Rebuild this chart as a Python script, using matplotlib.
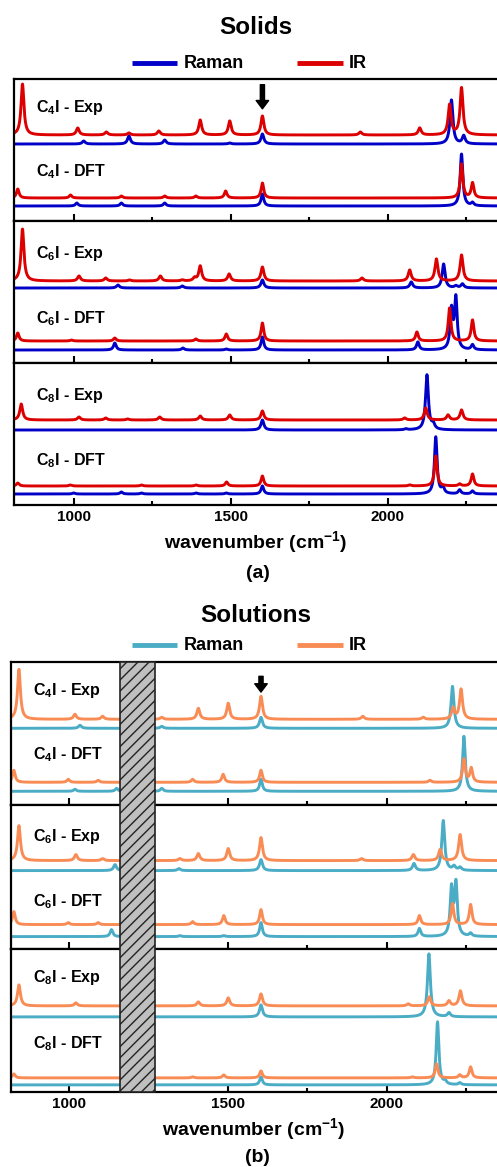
import numpy as np
import matplotlib
matplotlib.use('Agg')
import matplotlib.pyplot as plt
from matplotlib.lines import Line2D
from matplotlib.patches import Rectangle
from matplotlib.transforms import blended_transform_factory

plt.rcParams['font.family'] = ['Liberation Sans', 'DejaVu Sans']
plt.rcParams['font.weight'] = 'bold'
plt.rcParams['mathtext.fontset'] = 'custom'
plt.rcParams['mathtext.rm'] = 'Liberation Sans:bold'
plt.rcParams['mathtext.bf'] = 'Liberation Sans:bold'
plt.rcParams['hatch.linewidth'] = 1.0

# peak lists (wavenumber, intensity a.u.)
# (a) solids
a_c4_exp_ir = [(837, 51), (1013, 7), (1104, 3), (1176, 2), (1271, 4), (1403, 15), (1497, 14),
               (1601, 19), (1913, 3), (2102, 7), (2197, 30), (2235, 47)]
a_c4_exp_raman = [(1032, 3), (1176, 8), (1290, 4), (1497, 1), (1601, 10), (2203, 44), (2242, 8)]
a_c4_dft_ir = [(822, 9), (990, 3), (1152, 2), (1290, 2), (1389, 2), (1484, 7), (1601, 15),
               (2235, 34), (2270, 15)]
a_c4_dft_raman = [(1010, 3), (1152, 3), (1290, 3), (1601, 12), (2235, 52), (2270, 3)]

a_c6_exp_ir = [(837, 52), (1017, 5), (1102, 3), (1178, 1), (1276, 5), (1346, 1), (1385, 3),
               (1403, 15), (1495, 7), (1601, 14), (1918, 3), (2070, 11), (2155, 22), (2235, 26)]
a_c6_exp_raman = [(1141, 3), (1346, 2), (1601, 8), (2075, 6), (2178, 24), (2217, 2), (2238, 4)]
a_c6_dft_ir = [(822, 8), (993, 1), (1131, 3), (1389, 2), (1486, 7), (1601, 18), (2093, 9),
               (2197, 33), (2270, 21)]
a_c6_dft_raman = [(1131, 7), (1348, 2), (1486, 1), (1601, 13), (2096, 8), (2203, 39), (2217, 51),
                  (2270, 5)]

a_c8_exp_ir = [(833, 16), (1017, 3), (1102, 2), (1172, 1), (1274, 3), (1403, 4), (1497, 5),
               (1601, 9), (2054, 2), (2121, 12), (2192, 5), (2235, 10)]
a_c8_exp_raman = [(1601, 10), (2058, 1), (2125, 55), (2145, 5)]
a_c8_dft_ir = [(822, 3), (989, 1), (1216, 1), (1390, 1), (1487, 4), (1601, 10), (2070, 1),
               (2153, 30), (2229, 2), (2270, 12)]
a_c8_dft_raman = [(1000, 1), (1152, 2), (1216, 1), (1390, 1), (1486, 1), (1601, 8), (2153, 57),
                  (2176, 6), (2229, 4), (2270, 3)]

# (b) solutions
b_c4_exp_ir = [(843, 50), (1019, 5), (1106, 3), (1292, 2), (1407, 11), (1501, 16), (1604, 23),
               (1924, 3), (2114, 2), (2208, 11), (2233, 30)]
b_c4_exp_raman = [(1035, 3), (1292, 2), (1604, 11), (2206, 42)]
b_c4_dft_ir = [(827, 12), (998, 3), (1092, 2), (1389, 3), (1485, 8), (1604, 12), (2135, 2),
               (2242, 23), (2265, 14)]
b_c4_dft_raman = [(1019, 2), (1150, 3), (1292, 3), (1604, 12), (2242, 55)]

b_c6_exp_ir = [(843, 35), (1022, 6), (1106, 2), (1349, 2), (1407, 7), (1501, 12), (1604, 23),
               (1920, 2), (2083, 6), (2167, 11), (2230, 26)]
b_c6_exp_raman = [(1145, 6), (1346, 2), (1604, 11), (2085, 7), (2177, 50), (2211, 4), (2230, 3)]
b_c6_dft_ir = [(827, 13), (998, 2), (1092, 2), (1389, 3), (1487, 9), (1604, 15), (2102, 9),
               (2206, 21), (2263, 20)]
b_c6_dft_raman = [(1134, 7), (1349, 1), (1487, 1), (1604, 14), (2102, 8), (2203, 47), (2217, 52),
                  (2263, 3)]

b_c8_exp_ir = [(843, 21), (1022, 3), (1407, 4), (1501, 8), (1604, 12), (2067, 2), (2133, 9),
               (2195, 5), (2231, 15)]
b_c8_exp_raman = [(1604, 12), (2132, 63), (2195, 4)]
b_c8_dft_ir = [(827, 4), (1389, 1), (1487, 3), (1604, 7), (2080, 1), (2156, 14), (2229, 3),
               (2263, 11)]
b_c8_dft_raman = [(1604, 8), (2159, 63), (2183, 3), (2229, 2)]

compounds = ['C$_\\mathbf{4}$I', 'C$_\\mathbf{6}$I', 'C$_\\mathbf{8}$I']
masked_region = (1160, 1270)

W, H = 497, 1167
fig = plt.figure(figsize=(W / 100, H / 100), dpi=100)


def spectrum(x, peaks, hw):
    y = np.zeros_like(x)
    for p, a in peaks:
        y += a / (1 + ((x - p) / hw) ** 2)
    return y


def draw_panel(spectra, left_px, top_px, box_px, xlim, offsets, lab_y, c_raman, c_ir):
    axes = []
    x = np.linspace(xlim[0], xlim[1], 3000)
    for i in range(3):
        top = top_px + i * box_px
        ax = fig.add_axes([left_px / W, 1 - (top + box_px) / H, 1 - left_px / W, box_px / H])
        ex_ir, ex_ra, d_ir, d_ra = spectra[i]
        off = offsets[i]
        ax.plot(x, off[0] + spectrum(x, d_ra, 5), color=c_raman, lw=2.1)
        ax.plot(x, off[1] + spectrum(x, d_ir, 5), color=c_ir, lw=2.1)
        ax.plot(x, off[2] + spectrum(x, ex_ra, 5.5), color=c_raman, lw=2.1)
        ax.plot(x, off[3] + spectrum(x, ex_ir, 5.5), color=c_ir, lw=2.1)
        ax.set_xlim(xlim)
        ax.set_ylim(0, box_px)
        ax.set_yticks([])
        ax.set_xticks([1000, 1500, 2000])
        ax.set_xticks([1250, 1750, 2250], minor=True)
        ax.tick_params(which='major', direction='in', length=5, width=1.5, labelsize=11)
        ax.tick_params(which='minor', direction='in', length=3, width=1.5)
        if i < 2:
            ax.tick_params(labelbottom=False)
        ax.spines['right'].set_visible(False)
        for s in ['left', 'top', 'bottom']:
            ax.spines[s].set_linewidth(1.6)
        ax.text(0.045, lab_y[i][0], compounds[i] + ' - Exp', transform=ax.transAxes,
                fontsize=11.5, fontweight='bold', va='center')
        ax.text(0.045, lab_y[i][1], compounds[i] + ' - DFT', transform=ax.transAxes,
                fontsize=11.5, fontweight='bold', va='center')
        axes.append(ax)
    axes[-1].set_xlabel('wavenumber (cm$^{\\mathbf{-1}}$)', fontsize=14, fontweight='bold',
                        labelpad=4)
    return axes


def legend(y_px, c_raman, c_ir):
    fig.add_artist(Line2D([132 / W, 177 / W], [1 - y_px / H] * 2, color=c_raman, lw=3.5,
                          solid_capstyle='butt'))
    fig.text(184 / W, 1 - y_px / H, 'Raman', fontsize=13, fontweight='bold', va='center')
    fig.add_artist(Line2D([297 / W, 343 / W], [1 - y_px / H] * 2, color=c_ir, lw=3.5,
                          solid_capstyle='butt'))
    fig.text(349 / W, 1 - y_px / H, 'IR', fontsize=13, fontweight='bold', va='center')


def arrow(ax, xpos, y0, y1):
    ax.annotate('', xy=(xpos, y1), xytext=(xpos, y0), xycoords=('data', 'axes fraction'),
                arrowprops=dict(arrowstyle='simple,head_length=0.6,head_width=0.9,tail_width=0.3',
                                mutation_scale=10, color='k', shrinkA=0, shrinkB=0))


# ---- (a) Solids
blue, red = '#0000C8', '#DC0000'
sp_a = [(a_c4_exp_ir, a_c4_exp_raman, a_c4_dft_ir, a_c4_dft_raman),
        (a_c6_exp_ir, a_c6_exp_raman, a_c6_dft_ir, a_c6_dft_raman),
        (a_c8_exp_ir, a_c8_exp_raman, a_c8_dft_ir, a_c8_dft_raman)]
off_a = [(15, 23, 77, 86), (13, 22, 75, 82), (11, 19, 75, 85)]
lab_a = [(0.80, 0.345), (0.77, 0.31), (0.77, 0.31)]
axa = draw_panel(sp_a, 14, 79, 142, (810, 2348), off_a, lab_a, blue, red)
fig.text(0.515, 1 - 28 / H, 'Solids', fontsize=17.5, fontweight='bold',
         ha='center', va='center')
legend(63, blue, red)
arrow(axa[0], 1601, 0.96, 0.79)
fig.text(0.518, 1 - 573 / H, '(a)', fontsize=14, fontweight='bold',
         ha='center', va='center')

# ---- (b) Solutions
cyan, orange = '#4BACC6', '#F98C55'
sp_b = [(b_c4_exp_ir, b_c4_exp_raman, b_c4_dft_ir, b_c4_dft_raman),
        (b_c6_exp_ir, b_c6_exp_raman, b_c6_dft_ir, b_c6_dft_raman),
        (b_c8_exp_ir, b_c8_exp_raman, b_c8_dft_ir, b_c8_dft_raman)]
off_b = [(14, 23, 77, 86), (12, 24, 78, 88), (7, 14, 75, 86)]
lab_b = [(0.80, 0.35), (0.78, 0.33), (0.80, 0.34)]
axb = draw_panel(sp_b, 11, 662, 143.3, (818, 2346), off_b, lab_b, cyan, orange)
fig.text(0.515, 1 - 615 / H, 'Solutions', fontsize=17.5, fontweight='bold',
         ha='center', va='center')
legend(645, cyan, orange)
arrow(axb[0], 1604, 0.90, 0.79)
fig.text(0.518, 1 - 1157 / H, '(b)', fontsize=14, fontweight='bold',
         ha='center', va='center')

# hatched band over the masked region, spanning the whole (b) stack
trans = blended_transform_factory(axb[-1].transData, fig.transFigure)
band = Rectangle((masked_region[0], 1 - 1092 / H), masked_region[1] - masked_region[0],
                 430 / H, transform=trans, facecolor='#BFBFBF', edgecolor='#222222',
                 hatch='///', lw=1.2, zorder=10)
fig.add_artist(band)

fig.savefig('out.png', dpi=100)
